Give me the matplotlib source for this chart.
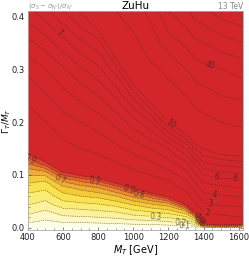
import numpy as np
import matplotlib.pyplot as plt
from matplotlib.ticker import MultipleLocator

# grid
mass = [400, 500, 600, 700, 800, 900, 1000, 1100, 1200, 1300, 1350, 1400, 1500, 1620]
width = [0.0, 0.01, 0.02, 0.03, 0.045, 0.06, 0.075, 0.09, 0.105, 0.12,
         0.135, 0.15, 0.2, 0.25, 0.3, 0.35, 0.41]

# (sigma_S - sigma_N')/sigma_N', one row per width value, one column per mass
ratio = [
    [0.02, 0.02, 0.02, 0.02, 0.02, 0.02, 0.02, 0.02, 0.02, 0.02, 0.02, 0.40, 0.55, 0.30],
    [0.105, 0.075, 0.10, 0.10, 0.11, 0.12, 0.14, 0.15, 0.18, 0.22, 0.30, 1.2, 1.35, 1.4],
    [0.17, 0.13, 0.18, 0.19, 0.20, 0.22, 0.26, 0.28, 0.31, 0.38, 0.55, 1.6, 1.8, 2.0],
    [0.23, 0.18, 0.25, 0.26, 0.28, 0.30, 0.36, 0.40, 0.44, 0.56, 1.05, 2.0, 2.3, 2.5],
    [0.31, 0.27, 0.36, 0.38, 0.40, 0.44, 0.52, 0.60, 0.66, 1.03, 1.75, 2.9, 3.15, 3.3],
    [0.37, 0.34, 0.46, 0.50, 0.53, 0.60, 0.73, 0.85, 1.05, 1.6, 2.5, 3.7, 3.9, 4.1],
    [0.45, 0.42, 0.56, 0.63, 0.69, 0.81, 1.0, 1.25, 1.5, 2.25, 3.3, 4.5, 4.7, 5.0],
    [0.53, 0.51, 0.73, 0.83, 0.92, 1.12, 1.45, 1.7, 2.0, 3.0, 4.2, 5.3, 5.7, 5.9],
    [0.64, 0.67, 1.0, 1.12, 1.24, 1.5, 1.85, 2.2, 2.75, 3.8, 5.1, 6.4, 6.9, 7.2],
    [0.77, 0.94, 1.23, 1.4, 1.56, 1.88, 2.3, 2.8, 3.5, 4.6, 6.0, 7.7, 8.2, 8.5],
    [0.93, 1.15, 1.45, 1.7, 1.9, 2.3, 2.85, 3.4, 4.25, 5.8, 7.5, 8.9, 9.5, 10],
    [1.1, 1.35, 1.7, 2.0, 2.25, 2.7, 3.4, 4.0, 5.0, 7.0, 9.0, 10, 11.5, 12.5],
    [1.6, 2.0, 2.6, 3.0, 3.5, 4.3, 5.5, 7.0, 10, 12.5, 15, 17, 20, 22],
    [2.2, 2.9, 3.65, 4.3, 5.0, 6.2, 8.3, 11.2, 16, 20, 24, 26, 30, 32],
    [3.25, 4.0, 4.85, 5.85, 6.7, 8.5, 12.5, 18, 22.5, 30, 35, 37, 40, 44],
    [4.7, 5.5, 6.6, 7.8, 8.6, 12, 17.5, 25, 35, 42, 48, 50, 55, 60],
    [6.7, 7.7, 9.0, 10.2, 12, 20, 25, 33, 50, 58, 65, 68, 75, 80],
]

fill_levels = [0, 0.1, 0.2, 0.3, 0.4, 0.5, 0.6, 0.7, 0.8, 0.9, 1.0, 1000]
fill_colors = ['#fefde6', '#fdf8c6', '#fcf29e', '#fbec76', '#f9e24e', '#f3cb3a',
               '#edaf33', '#e78d2f', '#df6a2c', '#d8462a', '#d3262b']
line_levels = [0.1, 0.2, 0.3, 0.4, 0.5, 0.6, 0.7, 0.8, 0.9, 1, 2, 3, 4, 5, 6, 7,
               8, 9, 10, 20, 30, 40, 50, 60, 70]
label_spots = [(410, 0.128), (575, 0.088), (780, 0.088), (975, 0.074), (1033, 0.06),
               (1128, 0.025), (1268, 0.011), (1290, 0.004), (1372, 0.018), (1372, 0.012),
               (1425, 0.034), (1442, 0.05), (1464, 0.07), (1470, 0.089), (1582, 0.092),
               (568, 0.366), (1218, 0.2), (1442, 0.313)]

X, Y = np.meshgrid(mass, width)
Z = np.array(ratio)

fig = plt.figure(figsize=(2.49, 2.56), dpi=100)
ax = fig.add_axes([0.112, 0.102, 0.862, 0.855])

ax.contourf(X, Y, Z, levels=fill_levels, colors=fill_colors)
cs = ax.contour(X, Y, Z, levels=line_levels, colors='#3a2a2a', linewidths=0.45,
                linestyles=[(0, (2.0, 1.5))], alpha=0.65)
ax.clabel(cs, manual=label_spots, inline=True, fontsize=5.5, colors='#222222',
          fmt=lambda v: f'{v:g}', inline_spacing=1)

ax.set_xlim(400, 1622)
ax.set_ylim(-0.004, 0.41)
ax.set_xticks([400, 600, 800, 1000, 1200, 1400, 1600])
ax.set_yticks([0.0, 0.1, 0.2, 0.3, 0.4])
ax.set_yticklabels(['0.0', '0.1', '0.2', '0.3', '0.4'])
ax.xaxis.set_minor_locator(MultipleLocator(50))
ax.yaxis.set_minor_locator(MultipleLocator(0.02))
ax.tick_params(which='both', direction='in', labelsize=6, colors='#555555',
               labelcolor='#222222', pad=2, top=True, right=True)
ax.tick_params(which='major', length=2.5, width=0.5)
ax.tick_params(which='minor', length=1.3, width=0.4)
for s in ax.spines.values():
    s.set_color('#aaaaaa')
    s.set_linewidth(0.6)

ax.set_xlabel(r'$M_T$ [GeV]', fontsize=7, labelpad=1)
ax.set_ylabel(r'$\Gamma_T/M_T$', fontsize=6.5)
ax.yaxis.set_label_coords(-0.07, 0.5)

fig.text(0.545, 0.976, 'ZuHu', ha='center', va='center', fontsize=7.5)
fig.text(0.114, 0.976, r"$(\sigma_S-\sigma_{N'})/\sigma_{N'}$", ha='left', va='center',
         fontsize=5, color='#999999')
fig.text(0.975, 0.976, '13 TeV', ha='right', va='center', fontsize=5.5, color='#888888')

fig.savefig('out.png', dpi=100)
